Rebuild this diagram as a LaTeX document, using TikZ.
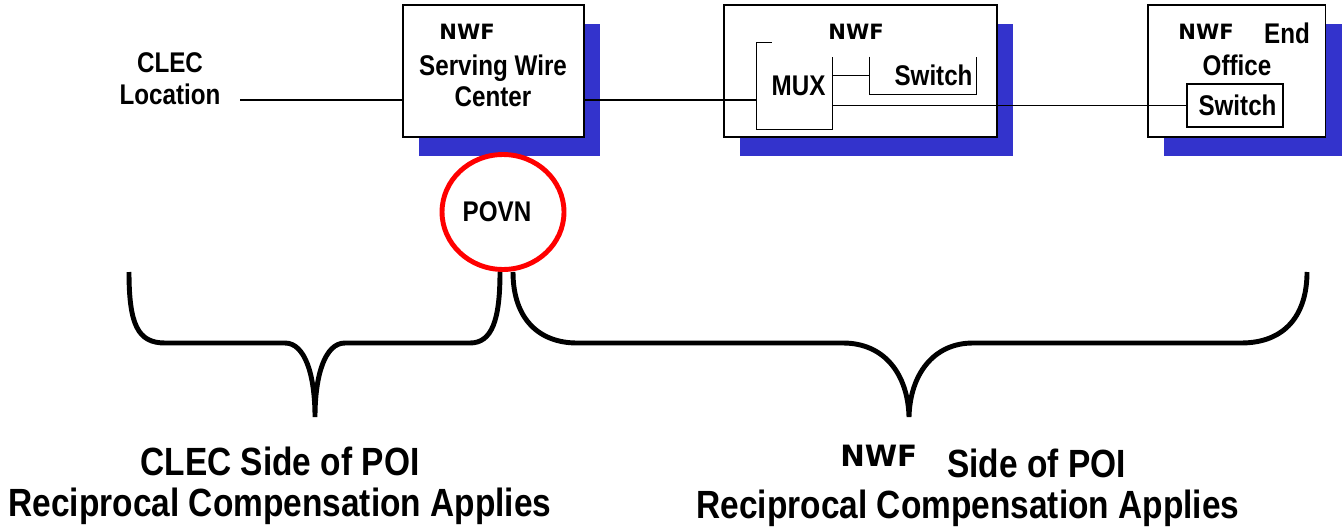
\documentclass[tikz,border=0pt]{standalone}
\usepackage{fontspec}
\usetikzlibrary{shadows,shapes.geometric}

\newfontfamily\lblfont{Liberation Sans}[FakeStretch=0.85]
\newfontfamily\nwffont{DejaVu Sans}
\definecolor{shadowblue}{RGB}{51,51,204}

\tikzset{
  box/.style={draw, line width=1.1pt, fill=white, minimum height=2.64cm, inner sep=0pt,
    drop shadow={shadow xshift=0.32cm, shadow yshift=-0.38cm, fill=shadowblue, opacity=1}},
  lbl/.style={font=\lblfont\bfseries\fontsize{16.2}{18}\selectfont, align=center, inner sep=0pt},
  nwf/.style={font=\nwffont\bfseries\fontsize{12}{14}\selectfont, inner sep=0pt},
  big/.style={font=\lblfont\bfseries\fontsize{22.4}{23.2}\selectfont, align=center, inner sep=0pt},
  wire/.style={line width=0.9pt},
  brace/.style={line width=2.8pt}
}

\begin{document}
\begin{tikzpicture}[x=0.02cm, y=-0.02cm]  % 一个单位就是一个像素, y 向下

  % 固定画布大小
  \useasboundingbox (0,0) rectangle (1344,527);

  % 三个带蓝色阴影的方框
  \node[box, minimum width=3.62cm] (swc) at (493.5,71) {};
  \node[box, minimum width=5.46cm] (tan) at (860.5,71) {};
  \node[box, minimum width=3.56cm] (eo) at (1236.5,71) {};

  % 左边的 CLEC
  \node[lbl] (clec) at (170,79) {CLEC\\Location};

  % 第一个方框里的文字
  \node[nwf] (swcnwf) at (467,32) {NWF};
  \node[lbl] (swctext) at (493,81) {Serving Wire\\Center};

  % 第二个方框: MUX 和 Switch
  \node[nwf] (tannwf) at (856,32) {NWF};
  \node[lbl, minimum width=1.5cm, minimum height=1.72cm] (mux) at (794.5,86) {\hspace*{0.16cm}MUX};
  \node[lbl, inner xsep=2pt, minimum width=2.12cm, minimum height=0.74cm,
        text width=1.98cm, align=right] (sw) at (923,75.5) {Switch};

  % MUX 只画了一部分边
  \draw[wire] (mux.north west) ++(15,0) -- (mux.north west) -- (mux.south west)
    -- (mux.south east) -- ++(0,-72);
  % Switch 是开口朝上的
  \draw[wire] (sw.north west) -- (sw.south west) -- (sw.south east) -- (sw.north east);

  % 第三个方框: End Office
  \node[nwf] (eonwf) at (1206,32) {NWF};
  \node[lbl] (eoend) at (1287,33) {End};
  \node[lbl] (eooff) at (1237,65) {Office};
  \node[lbl, draw, line width=0.9pt, minimum width=1.92cm, minimum height=0.86cm] (eosw)
    at (1235,105.5) {\hspace*{0.1cm}Switch};

  % 红圈 POVN
  \node[lbl, ellipse, draw=red, line width=2.8pt, minimum width=2.44cm,
        minimum height=2.3cm] (povn) at (503,212) {\hspace*{-0.24cm}POVN};

  % 连线
  \coordinate (clecend) at (240,100);
  \draw[wire] (clecend) -- (clecend -| swc.west);
  \draw[wire] (swc.east |- clecend) -- (mux.west |- clecend);
  \draw[wire] (mux.east |- sw.west) -- (sw.west);
  \draw[wire] (mux.east |- eosw.west) -- (eosw.west);

  % 左边的大括号
  \draw[brace] (129,272) .. controls (129,325) and (138,343) .. (165,343) -- (285,343)
    .. controls (305,343) and (315,375) .. (315,417)
    .. controls (315,375) and (325,343) .. (345,343) -- (470,343)
    .. controls (492,343) and (500,320) .. (500,272);

  % 右边的大括号
  \draw[brace] (513,272) .. controls (513,320) and (540,343) .. (577,343) -- (843,343)
    .. controls (885,343) and (908,375) .. (909,417)
    .. controls (910,375) and (933,343) .. (973,343) -- (1241,343)
    .. controls (1285,343) and (1307,315) .. (1307,272);

  % 下面两段说明
  \node[big] (clecside) at (280,486) {CLEC Side of POI\\Reciprocal Compensation Applies};
  \node[big] (nwfside) at (968,486) {\hspace*{0.6cm}\raisebox{6pt}{\nwffont\fontsize{16.7}{18}\selectfont NWF}\hspace{0.6cm}Side of POI\\Reciprocal Compensation Applies};

\end{tikzpicture}
\end{document}
